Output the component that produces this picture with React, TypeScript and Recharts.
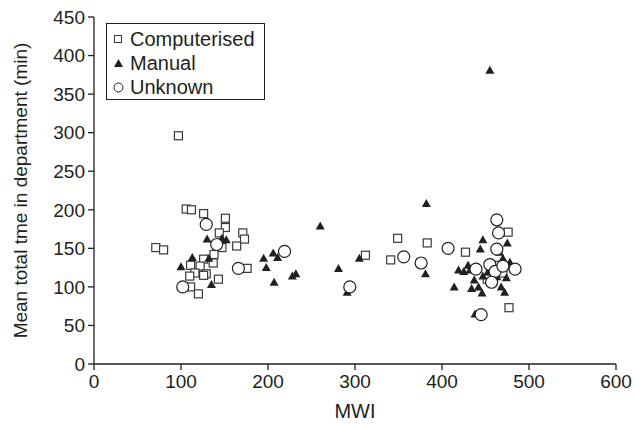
import React from "react";
import {
  ScatterChart,
  Scatter,
  XAxis,
  YAxis,
  ZAxis,
} from "recharts";

// [MWI, minutes]
const computerised: [number, number][] = [
  [71, 151], [80, 148], [97, 296], [106, 201], [112, 200], [126, 195],
  [151, 189], [151, 177], [144, 170], [171, 170], [173, 162], [164, 153],
  [147, 151], [138, 142], [137, 131], [126, 136], [111, 128], [122, 127],
  [116, 118], [129, 117], [110, 114], [126, 115], [143, 110], [111, 100],
  [120, 91], [176, 124], [312, 141], [341, 135], [349, 163], [383, 157],
  [427, 145], [476, 171], [477, 73], [462, 128], [470, 118], [452, 110],
];

const manual: [number, number][] = [
  [100, 126], [113, 138], [130, 162], [132, 137], [135, 103], [147, 163],
  [152, 161], [195, 137], [198, 125], [206, 144], [211, 138], [207, 106],
  [228, 114], [232, 117], [260, 179], [281, 124], [305, 137], [291, 93],
  [382, 208], [381, 117], [414, 100], [455, 381], [447, 161], [444, 149],
  [438, 65], [419, 122], [425, 120], [430, 128], [432, 122], [437, 109],
  [434, 98], [442, 100], [447, 114], [453, 120], [457, 107], [463, 113],
  [446, 92], [474, 112], [470, 137], [475, 157], [472, 93], [468, 100],
  [466, 145], [478, 132],
];

const unknown: [number, number][] = [
  [102, 100], [129, 181], [141, 155], [166, 124], [219, 146], [294, 100],
  [356, 139], [376, 131], [407, 150], [463, 187], [465, 170], [463, 149],
  [439, 123], [455, 129], [461, 120], [457, 106], [445, 64], [484, 123],
  [470, 127],
];

const xTicks = [0, 100, 200, 300, 400, 500, 600];
const yTicks = [0, 50, 100, 150, 200, 250, 300, 350, 400, 450];

const toRows = (pts: [number, number][]) => pts.map(([mwi, min]) => ({ mwi, min }));

const INK = "#231f20";
const FONT = "'Liberation Sans', Arial, sans-serif";

const Square = (p: any) => (
  <rect x={p.cx - 4} y={p.cy - 4} width={8} height={8} fill="#fff" stroke="#3a3a3a" strokeWidth={1.2} />
);
const Triangle = (p: any) => (
  <path d={`M${p.cx},${p.cy - 4.5}L${p.cx + 4.5},${p.cy + 3.5}L${p.cx - 4.5},${p.cy + 3.5}Z`} fill={INK} />
);
const Circle = (p: any) => (
  <circle cx={p.cx} cy={p.cy} r={6} fill="#fff" stroke={INK} strokeWidth={1.2} />
);

function LegendBox() {
  const row = { display: "flex", alignItems: "center", height: 24 } as const;
  const icon = { width: 14, display: "flex", justifyContent: "center", marginRight: 5 } as const;
  return (
    <div
      style={{
        position: "absolute",
        left: 106,
        top: 23,
        width: 159,
        height: 77,
        border: `1.3px solid ${INK}`,
        boxSizing: "border-box",
        padding: "3px 0 0 4px",
        fontFamily: FONT,
        fontSize: 20,
        color: INK,
        background: "#fff",
      }}
    >
      <div style={row}>
        <span style={icon}>
          <svg width={8} height={8}><rect x={0.5} y={0.5} width={7} height={7} fill="#fff" stroke="#3a3a3a" /></svg>
        </span>
        Computerised
      </div>
      <div style={row}>
        <span style={icon}>
          <svg width={9} height={8}><path d="M4.5,0L9,8L0,8Z" fill={INK} /></svg>
        </span>
        Manual
      </div>
      <div style={row}>
        <span style={icon}>
          <svg width={11} height={11}><circle cx={5.5} cy={5.5} r={4.5} fill="#fff" stroke={INK} /></svg>
        </span>
        Unknown
      </div>
    </div>
  );
}

export default function App() {
  const tick = { fontSize: 19, fill: INK, fontFamily: FONT };
  return (
    <div style={{ position: "fixed", left: 0, top: 0, width: 635, height: 425, background: "#fff" }}>
      <ScatterChart
        width={635}
        height={425}
        margin={{ top: 17, right: 19, bottom: 4, left: 36 }}
      >
        <XAxis
          xAxisId="top"
          orientation="top"
          type="number"
          dataKey="mwi"
          domain={[0, 600]}
          tick={false}
          tickLine={false}
          height={0}
          axisLine={{ stroke: INK, strokeWidth: 1.3 }}
        />
        <YAxis
          yAxisId="right"
          orientation="right"
          type="number"
          dataKey="min"
          domain={[0, 450]}
          tick={false}
          tickLine={false}
          width={0}
          axisLine={{ stroke: INK, strokeWidth: 1.3 }}
        />
        <XAxis
          type="number"
          dataKey="mwi"
          domain={[0, 600]}
          ticks={xTicks}
          tick={tick}
          tickSize={6}
          tickMargin={5}
          height={57}
          axisLine={{ stroke: INK, strokeWidth: 1.3 }}
          tickLine={{ stroke: INK, strokeWidth: 1.3 }}
          label={{ value: "MWI", position: "insideBottom", offset: 3, style: { fontSize: 20, fill: INK, fontFamily: FONT } }}
        />
        <YAxis
          type="number"
          dataKey="min"
          domain={[0, 450]}
          ticks={yTicks}
          tick={tick}
          tickSize={6}
          tickMargin={3}
          width={58}
          axisLine={{ stroke: INK, strokeWidth: 1.3 }}
          tickLine={{ stroke: INK, strokeWidth: 1.3 }}
          label={{
            value: "Mean total tme in department (min)",
            angle: -90,
            position: "insideLeft",
            offset: -16,
            style: { textAnchor: "middle", fontSize: 19, fill: INK, fontFamily: FONT },
          }}
        />
        <ZAxis range={[60, 60]} />
        <Scatter data={toRows(computerised)} shape={Square} isAnimationActive={false} />
        <Scatter data={toRows(manual)} shape={Triangle} isAnimationActive={false} />
        <Scatter data={toRows(unknown)} shape={Circle} isAnimationActive={false} />
      </ScatterChart>
      <LegendBox />
    </div>
  );
}
